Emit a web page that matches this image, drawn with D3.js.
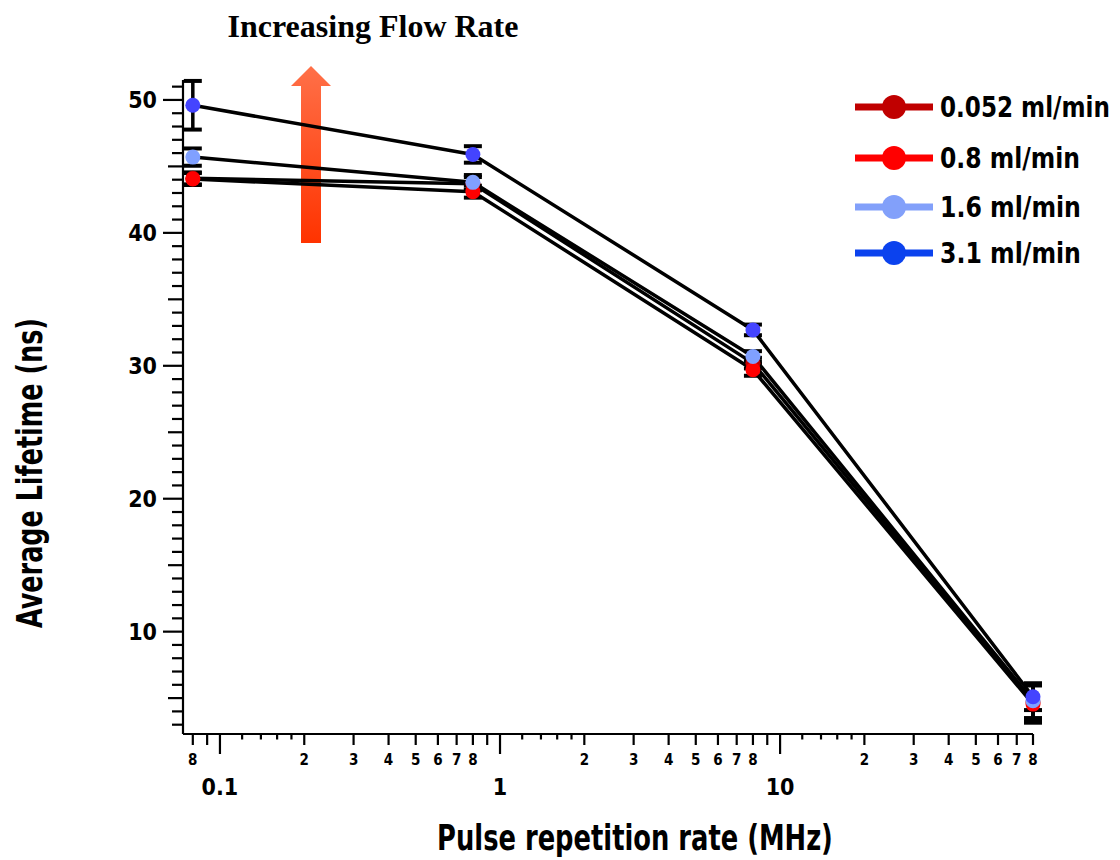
<!DOCTYPE html>
<html><head><meta charset="utf-8">
<script src="https://cdn.jsdelivr.net/npm/d3@7"></script>
<style>
body{margin:0;background:#fff}
.cond{font-family:"DejaVu Sans Condensed","DejaVu Sans",sans-serif;font-stretch:condensed;font-weight:bold}
</style>
</head><body><svg id="c" width="1120" height="860"></svg>
<script>
// ---- data ----
const rates = [0.08, 0.8, 8, 80];
const seriesNames = ["0.052 ml/min", "0.8 ml/min", "1.6 ml/min", "3.1 ml/min"];
const life052 = [44.1, 43.7, 30.2, 4.7];
const life08  = [44.05, 43.1, 29.7, 4.55];
const life16  = [45.7, 43.8, 30.7, 4.8];
const life31  = [49.6, 45.9, 32.7, 5.1];
const err052 = [0.45, 0.5, 0.4, 1.3];
const err08  = [0.45, 0.45, 0.45, 1.4];
const err16  = [0.65, 0.55, 0.4, 1.3];
const err31  = [1.83, 0.62, 0.4, 1.0];
const legendColors = ["#c00000", "#ff0000", "#82a0fa", "#0b42ee"];
const pointColors  = ["#c00000", "#ff0000", "#80a0ff", "#4444ff"];
const yTickLabels = [10, 20, 30, 40, 50];
const xDecades = [0.1, 1, 10];
const title = "Increasing Flow Rate";
const xTitle = "Pulse repetition rate (MHz)";
const yTitle = "Average Lifetime (ns)";

const values = [life052, life08, life16, life31];
const errors = [err052, err08, err16, err31];
const legendWidths = [170, 140, 141, 141];

const svg = d3.select("#c");
const x = d3.scaleLog().domain([0.0738, 80]).range([183, 1033]);
const y = d3.scaleLinear().domain([2.3, 51.5]).range([734, 80]);

// fit a text horizontally to a target width via a scale transform
function fitText(sel, tx, ty, width, rotate) {
  const w = sel.node().getComputedTextLength();
  const s = width / w;
  sel.attr("transform", `translate(${tx},${ty})` + (rotate ? ` rotate(${rotate})` : "") + ` scale(${s},1)`);
}

// ---- axes ----
const ax = svg.append("g").attr("stroke", "#000").attr("stroke-width", 2.2);
ax.append("line").attr("x1", 183).attr("x2", 183).attr("y1", y(51.5)).attr("y2", y(2.3));
ax.append("line").attr("x1", 183).attr("x2", 1033).attr("y1", 734).attr("y2", 734);

// y ticks
const yTicks = d3.range(3, 52);
ax.selectAll(".yt").data(yTicks).join("line")
  .attr("x1", d => d % 10 === 0 ? 163 : d % 5 === 0 ? 168 : 172)
  .attr("x2", 183).attr("y1", d => y(d)).attr("y2", d => y(d));
svg.selectAll(".yl").data(yTickLabels).join("text").attr("class", "cond")
  .attr("x", 157).attr("y", d => y(d)).attr("dy", "0.36em")
  .attr("text-anchor", "end").attr("font-size", 23).text(d => d);

// x ticks
const xMinor = [], xSub = [];
[0.01, 0.1, 1, 10].forEach(dec => {
  for (let k = 2; k <= 9; k++) { const v = dec * k; if (v >= 0.0738 && v <= 80.01) xMinor.push({v, k}); }
  [1.2, 1.4, 1.6, 1.8].forEach(k => { const v = dec * k; if (v >= 0.0738 && v <= 80) xSub.push(v); });
});
ax.selectAll(".xd").data(xDecades).join("line")
  .attr("x1", d => x(d)).attr("x2", d => x(d)).attr("y1", 734).attr("y2", 754);
ax.selectAll(".xm").data(xMinor).join("line")
  .attr("x1", d => x(d.v)).attr("x2", d => x(d.v)).attr("y1", 734).attr("y2", 745);
ax.selectAll(".xs").data(xSub).join("line")
  .attr("x1", d => x(d)).attr("x2", d => x(d)).attr("y1", 734).attr("y2", 739.5);
svg.selectAll(".xml").data(xMinor.filter(d => d.k <= 8)).join("text").attr("class", "cond")
  .attr("x", d => x(d.v)).attr("y", 765).attr("text-anchor", "middle")
  .attr("font-size", 15).text(d => d.k);
svg.selectAll(".xdl").data(xDecades).join("text").attr("class", "cond")
  .attr("x", d => x(d)).attr("y", 795).attr("text-anchor", "middle")
  .attr("font-size", 23).text(d => d);

// axis titles
fitText(svg.append("text").attr("class", "cond").attr("text-anchor", "middle")
  .attr("font-size", 36).text(xTitle), 635, 850, 396);
fitText(svg.append("text").attr("class", "cond").attr("text-anchor", "middle")
  .attr("font-size", 36).text(yTitle), 42, 473, 310, -90);

// title
fitText(svg.append("text").attr("text-anchor", "middle")
  .attr("font-family", "Liberation Serif, Times New Roman, serif").attr("font-weight", "bold")
  .attr("font-size", 31).text(title), 373, 37, 291);

// arrow
const defs = svg.append("defs");
const gr = defs.append("linearGradient").attr("id", "ag").attr("x1", 0).attr("x2", 0).attr("y1", 0).attr("y2", 1);
gr.append("stop").attr("offset", 0).attr("stop-color", "#ff7048");
gr.append("stop").attr("offset", 1).attr("stop-color", "#ff3300");
svg.append("path").attr("fill", "url(#ag)")
  .attr("d", "M301,243 L301,86 L291,86 L311,66 L331,86 L321,86 L321,243 Z");

// ---- data marks ----
const pts = i => rates.map((r, j) => ({r, v: values[i][j], e: errors[i][j]}));
// error bars
values.forEach((s, i) => {
  const g = svg.append("g").attr("stroke", "#000").attr("stroke-width", 3.5);
  pts(i).forEach(p => {
    const cx = x(p.r);
    g.append("line").attr("x1", cx).attr("x2", cx).attr("y1", y(p.v + p.e)).attr("y2", y(p.v - p.e));
    g.append("line").attr("x1", cx - 9).attr("x2", cx + 9).attr("y1", y(p.v + p.e)).attr("y2", y(p.v + p.e)).attr("stroke-width", 4);
    g.append("line").attr("x1", cx - 9).attr("x2", cx + 9).attr("y1", y(p.v - p.e)).attr("y2", y(p.v - p.e)).attr("stroke-width", 4);
  });
});
// lines
const line = d3.line().x(d => x(d.r)).y(d => y(d.v));
values.forEach((s, i) => {
  svg.append("path").datum(pts(i)).attr("d", line).attr("fill", "none")
    .attr("stroke", "#000").attr("stroke-width", 3.5).attr("stroke-linejoin", "round");
});
// points
values.forEach((s, i) => {
  svg.append("g").selectAll("circle").data(pts(i)).join("circle")
    .attr("cx", d => x(d.r)).attr("cy", d => y(d.v)).attr("r", 7.5)
    .attr("fill", pointColors[i]);
});

// legend
const lg = svg.append("g");
const legendY = [107, 158, 207, 253];
seriesNames.forEach((n, i) => {
  const gy = legendY[i];
  lg.append("line").attr("x1", 855).attr("x2", 933).attr("y1", gy).attr("y2", gy)
    .attr("stroke", legendColors[i]).attr("stroke-width", 7);
  lg.append("circle").attr("cx", 894).attr("cy", gy).attr("r", 12).attr("fill", legendColors[i]);
  fitText(lg.append("text").attr("class", "cond").attr("dy", "0.36em")
    .attr("font-size", 29).text(n), 940, gy, legendWidths[i]);
});
</script></body></html>
